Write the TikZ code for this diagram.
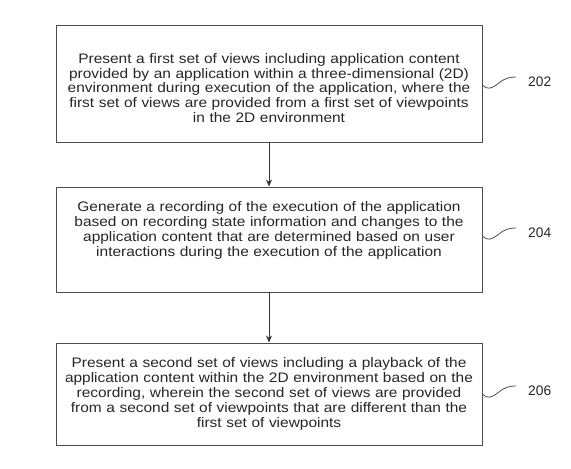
\documentclass[tikz,border=0pt]{standalone}
\usepackage{fontspec}
\setmainfont{Liberation Sans}
\newfontfamily\widesans[FakeStretch=1.12]{Liberation Sans}
\usetikzlibrary{arrows.meta}
\begin{document}
\begin{tikzpicture}[x=1pt,y=-1pt,
  stepbox/.style={draw=black!70, line width=0.9pt, minimum width=426pt, inner sep=0pt},
  steptext/.style={text width=420pt, align=center, inner sep=0pt, font=\widesans\fontsize{13.8}{14.8}\selectfont, text=black!85},
  flow/.style={draw=black!80, line width=0.9pt, -{Stealth[length=7pt,width=6pt]}},
  squig/.style={draw=black!70, line width=0.8pt},
  lbl/.style={font=\fontsize{13.8}{15}\selectfont, text=black!85, anchor=west, inner sep=0pt}]
\useasboundingbox (0,0) rectangle (571,469);
\node[stepbox, minimum height=117pt] (b1) at (269,83.5) {};
\node[stepbox, minimum height=105pt] (b2) at (269,239.5) {};
\node[stepbox, minimum height=102pt] (b3) at (269,394) {};
\node[steptext] (t1) at (269,88) {Present a first set of views including application content\\provided by an application within a three-dimensional (2D)\\environment during execution of the application, where the\\first set of views are provided from a first set of viewpoints\\in the 2D environment};
\node[steptext] (t2) at (269,230.5) {Generate a recording of the execution of the application\\based on recording state information and changes to the\\application content that are determined based on user\\interactions during the execution of the application};
\node[steptext] (t3) at (269,394) {Present a second set of views including a playback of the\\application content within the 2D environment based on the\\recording, wherein the second set of views are provided\\from a second set of viewpoints that are different than the\\first set of viewpoints};
\draw[flow] (b1) -- (b2);
\draw[flow] (b2) -- (b3);
\node[lbl] (l1) at (528,82) {202};
\node[lbl] (l2) at (528,233) {204};
\node[lbl] (l3) at (528,391) {206};
\draw[squig] (b1.east |- 0,85) .. controls (487,90) and (491,89) .. (499,83) .. controls (505,78) and (510,77) .. (516,77);
\draw[squig] (b2.east |- 0,236) .. controls (487,241) and (491,240) .. (499,234) .. controls (505,229) and (510,228) .. (516,228);
\draw[squig] (b3.east |- 0,394) .. controls (487,399) and (491,398) .. (499,392) .. controls (505,387) and (510,386) .. (516,386);
\end{tikzpicture}
\end{document}
